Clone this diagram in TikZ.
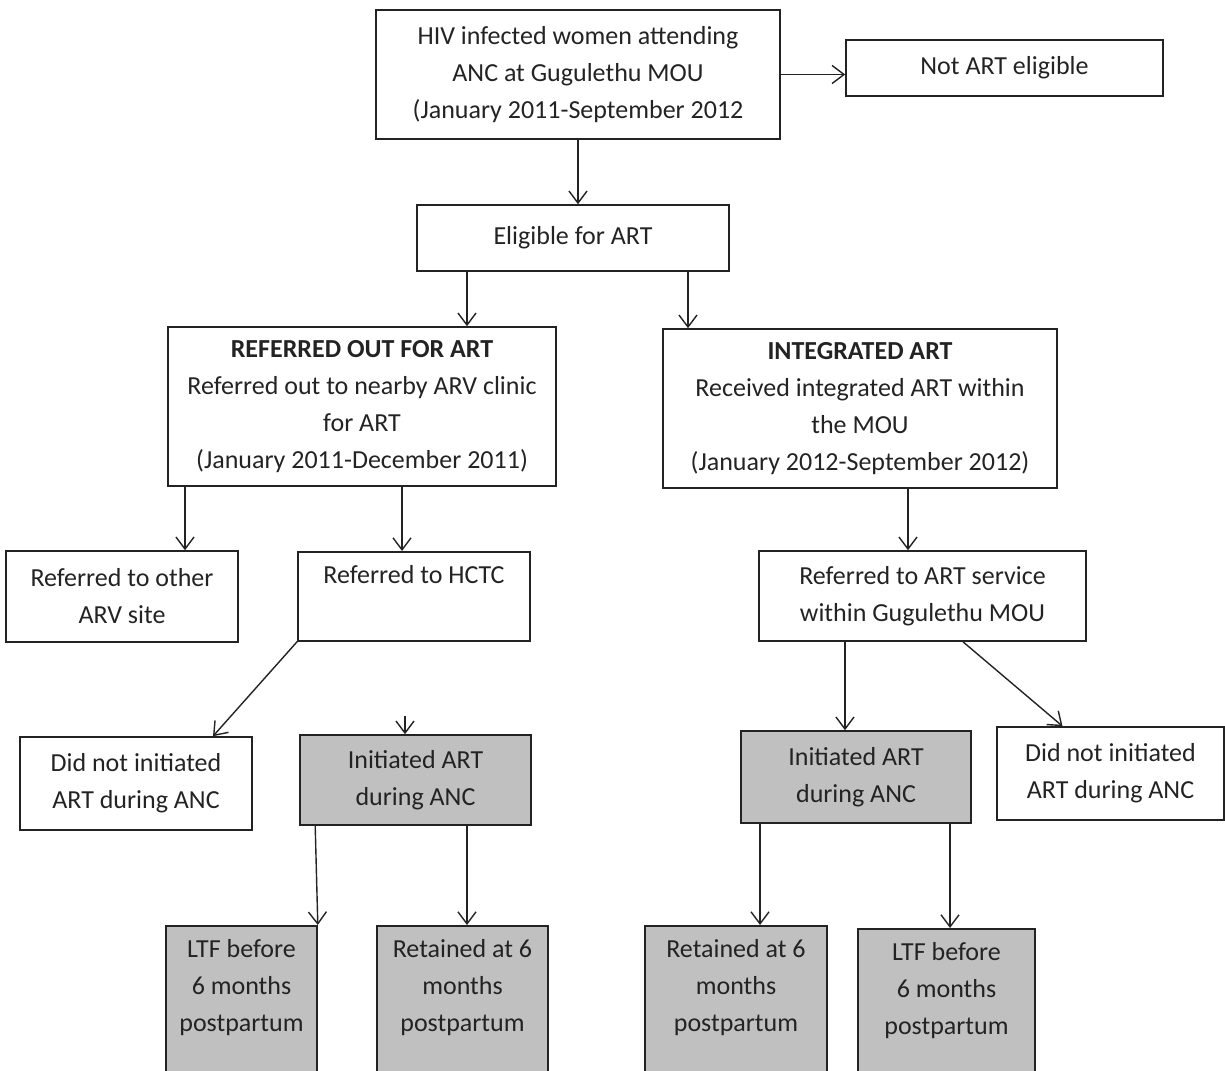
\documentclass[tikz,border=0pt]{standalone}
\usepackage{fontspec}
\setmainfont{Carlito}
\usepackage{tikz}
\usetikzlibrary{positioning,arrows.meta,calc}
\definecolor{boxgray}{RGB}{192,192,192}
\definecolor{inkclr}{RGB}{35,35,35}
\newcommand{\toptext}[3]{\parbox[c][#1][t]{#2}{\centering #3}}

\begin{document}
\begin{tikzpicture}[
    x=0.5pt, y=-0.5pt,
    >={Straight Barb[length=6pt,width=9pt]},
    plainbox/.style={draw=inkclr, line width=0.8pt, align=center, text=inkclr,
                     inner sep=2pt, font=\fontsize{13}{18.5}\selectfont},
    greybox/.style={plainbox, fill=boxgray},
    topbox/.style={plainbox, anchor=north, inner ysep=7pt},
    arr/.style={->, draw=inkclr, line width=0.7pt},
  ]
\useasboundingbox (0,0) rectangle (1225,1070);
\node[plainbox, minimum width=202pt, minimum height=64.5pt] (hiv) at (578,74.5)
  {HIV infected women attending\\ANC at Gugulethu MOU\\(January 2011-September 2012};
\node[plainbox, minimum width=158.5pt, minimum height=28pt] (notelig) at (1004.5,68) {Not ART eligible};
\node[plainbox, minimum width=156pt, minimum height=33pt] (elig) at (573,238) {Eligible for ART};
\node[plainbox, minimum width=194pt, minimum height=79.5pt] (refout) at (362,406.5)
  {\textbf{REFERRED OUT FOR ART}\\Referred out to nearby ARV clinic\\for ART\\(January 2011-December 2011)};
\node[plainbox, minimum width=197pt, minimum height=79.5pt] (integ) at (860,408.5)
  {\textbf{INTEGRATED ART}\\Received integrated ART within\\the MOU\\(January 2012-September 2012)};
\node[plainbox, minimum width=116pt, minimum height=45.5pt] (other) at (122,596.5) {Referred to other\\ARV site};
\node[topbox, minimum width=116pt] (hctc) at (414,551) {\toptext{30.5pt}{100pt}{Referred to HCTC}};
\node[plainbox, minimum width=163.5pt, minimum height=45pt] (artserv) at (922.5,596)
  {Referred to ART service\\within Gugulethu MOU};
\node[plainbox, minimum width=116pt, minimum height=46.5pt] (nostart1) at (136,783.5) {Did not initiated\\ART during ANC};
\node[greybox, minimum width=115.5pt, minimum height=45pt] (init1) at (415.5,780) {Initiated ART\\during ANC};
\node[greybox, minimum width=115pt, minimum height=46pt] (init2) at (856,777) {Initiated ART\\during ANC};
\node[plainbox, minimum width=113.5pt, minimum height=46.5pt] (nostart2) at (1110.5,773.5) {Did not initiated\\ART during ANC};
\node[topbox, fill=boxgray, minimum width=75.5pt] (ltf1) at (241.5,925) {\toptext{64pt}{66pt}{LTF before\\6 months\\postpartum}};
\node[topbox, fill=boxgray, minimum width=85.5pt] (ret1) at (462.5,925) {\toptext{64pt}{76pt}{Retained at 6\\months\\postpartum}};
\node[topbox, fill=boxgray, minimum width=91pt] (ret2) at (736,925) {\toptext{64pt}{78pt}{Retained at 6\\months\\postpartum}};
\node[topbox, fill=boxgray, minimum width=88.5pt] (ltf2) at (946.5,928) {\toptext{64pt}{78pt}{LTF before\\6 months\\postpartum}};
\coordinate (stub) at (405,716);
\draw[arr] (hiv.south) -- (hiv.south |- elig.north);
\draw[arr] (hiv.east) -- (hiv.east -| notelig.west);
\draw[arr] ([xshift=-53pt]elig.south) -- ([xshift=-53pt]elig.south |- refout.north);
\draw[arr] ([xshift=57.5pt]elig.south) -- ([xshift=57.5pt]elig.south |- integ.north);
\draw[arr] ([xshift=-88.5pt]refout.south) -- ([xshift=-88.5pt]refout.south |- other.north);
\draw[arr] ([xshift=20pt]refout.south) -- ([xshift=20pt]refout.south |- hctc.north);
\draw[arr] (hctc.south west) -- ([xshift=38.5pt]nostart1.north);
\draw[arr] (stub) -- (stub |- init1.north);
\draw[arr] ([xshift=8pt]init1.south west) -- (ltf1.north east);
\draw[arr] ([xshift=25.75pt]init1.south) -- ([xshift=25.75pt]init1.south |- ret1.north);
\draw[arr] ([xshift=24pt]integ.south) -- ([xshift=24pt]integ.south |- artserv.north);
\draw[arr] ([xshift=-38.75pt]artserv.south) -- ([xshift=-38.75pt]artserv.south |- init2.north);
\draw[arr] ([xshift=20.25pt]artserv.south) -- ([xshift=-24pt]nostart2.north);
\draw[arr] ([xshift=-48pt]init2.south) -- ([xshift=-48pt]init2.south |- ret2.north);
\draw[arr] ([xshift=47pt]init2.south) -- ([xshift=47pt]init2.south |- ltf2.north);
\end{tikzpicture}
\end{document}
